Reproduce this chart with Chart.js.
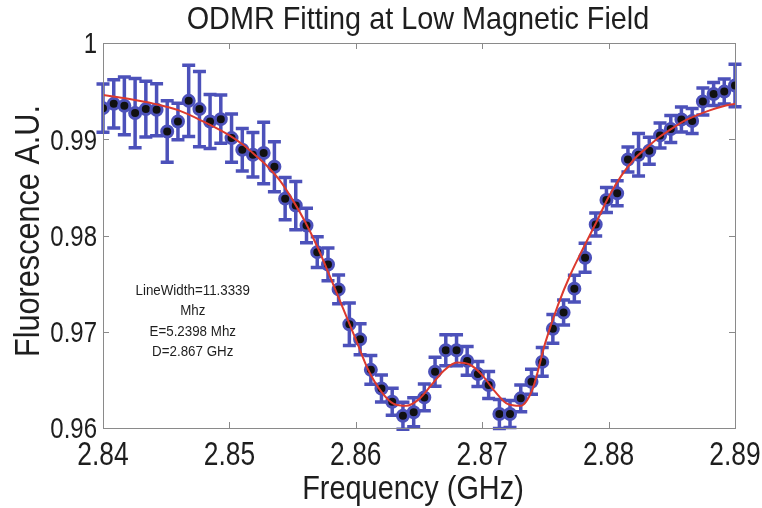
<!DOCTYPE html>
<html lang="en">
<head>
    <meta charset="UTF-8">
    <title>ODMR Fitting at Low Magnetic Field</title>
    <script src="https://cdn.jsdelivr.net/npm/chart.js"></script>
    <style>
        html, body { margin: 0; padding: 0; background: #fff; }
        #wrap { width: 762px; height: 508px; }
    </style>
</head>
<body>
<div id="wrap"><canvas id="chart" width="762" height="508"></canvas></div>
<script>
// measured ODMR sweep: frequency (GHz), normalised fluorescence and its error
const freqGHz = [
    2.84000, 2.84085, 2.84169, 2.84254, 2.84339, 2.84424, 2.84508, 2.84593, 2.84678, 2.84763,
    2.84847, 2.84932, 2.85017, 2.85102, 2.85186, 2.85271, 2.85356, 2.85441, 2.85525, 2.85610,
    2.85695, 2.85780, 2.85864, 2.85949, 2.86034, 2.86119, 2.86203, 2.86288, 2.86373, 2.86458,
    2.86542, 2.86627, 2.86712, 2.86797, 2.86881, 2.86966, 2.87051, 2.87136, 2.87220, 2.87305,
    2.87390, 2.87475, 2.87559, 2.87644, 2.87729, 2.87814, 2.87898, 2.87983, 2.88068, 2.88153,
    2.88237, 2.88322, 2.88407, 2.88492, 2.88576, 2.88661, 2.88746, 2.88831, 2.88915, 2.89000
];
const fluor = [
    0.99323, 0.99368, 0.99347, 0.99272, 0.99313, 0.99306, 0.99081, 0.99184, 0.99399, 0.99313,
    0.99184, 0.99209, 0.99012, 0.98891, 0.98839, 0.98857, 0.98715, 0.98383, 0.98311, 0.98104,
    0.97827, 0.97699, 0.97440, 0.97078, 0.96922, 0.96604, 0.96411, 0.96273, 0.96127, 0.96163,
    0.96318, 0.96584, 0.96808, 0.96808, 0.96697, 0.96560, 0.96446, 0.96145, 0.96145, 0.96308,
    0.96480, 0.96687, 0.97030, 0.97199, 0.97448, 0.97769, 0.98114, 0.98370, 0.98438, 0.98790,
    0.98839, 0.98880, 0.99040, 0.99106, 0.99205, 0.99190, 0.99392, 0.99470, 0.99495, 0.99558
];
const fluorErr = [
    0.0025, 0.0025, 0.0030, 0.0036, 0.0029, 0.0027, 0.0032, 0.0019, 0.0037, 0.0039,
    0.0028, 0.0025, 0.0025, 0.0022, 0.0023, 0.0032, 0.0026, 0.0022, 0.0025, 0.0018,
    0.0016, 0.0017, 0.0015, 0.0022, 0.0016, 0.0015, 0.0014, 0.0014, 0.0014, 0.0015,
    0.0014, 0.0015, 0.0016, 0.0016, 0.0015, 0.0013, 0.0014, 0.0015, 0.0014, 0.0014,
    0.0013, 0.0015, 0.0015, 0.0013, 0.0014, 0.0015, 0.0012, 0.0013, 0.0013, 0.0013,
    0.0022, 0.0014, 0.0013, 0.0014, 0.0013, 0.0013, 0.0014, 0.0012, 0.0013, 0.0022
];

// fitted double-dip curve
const fitGHz = [
    2.840, 2.842, 2.844, 2.846, 2.848, 2.850, 2.851, 2.852, 2.853, 2.854,
    2.855, 2.856, 2.857, 2.858, 2.859, 2.860, 2.861, 2.862, 2.863, 2.864,
    2.865, 2.866, 2.867, 2.868, 2.869, 2.870, 2.871, 2.872, 2.873, 2.874,
    2.875, 2.876, 2.877, 2.878, 2.879, 2.880, 2.881, 2.882, 2.883, 2.884,
    2.885, 2.886, 2.887, 2.888, 2.889, 2.890
];
const fitVal = [
    0.9946, 0.9942, 0.9937, 0.9930, 0.9918, 0.9904, 0.9895, 0.9884, 0.9872, 0.9857,
    0.9837, 0.9814, 0.9787, 0.9756, 0.9724, 0.9692, 0.9660, 0.9638, 0.9625, 0.9623,
    0.9630, 0.9645, 0.9660, 0.9668, 0.9666, 0.9655, 0.9638, 0.9625, 0.9623, 0.9641,
    0.9689, 0.9728, 0.9760, 0.9787, 0.9813, 0.9840, 0.9862, 0.9879, 0.9891, 0.9902,
    0.9911, 0.9919, 0.9925, 0.9930, 0.9934, 0.9937
];

const xTickLabels = ['2.84', '2.85', '2.86', '2.87', '2.88', '2.89'];
const yTickLabels = ['0.96', '0.97', '0.98', '0.99', '1'];
const fitNotes = ['LineWidth=11.3339', 'Mhz', 'E=5.2398 Mhz', 'D=2.867 GHz'];

const FONT = '"Liberation Sans", Arial, sans-serif';
const BLUE = '#4c51ba';
const INK = '#1e1e1e';

// narrow-looking text: regular sans squeezed horizontally
function label(ctx, s, x, y, size, squeeze, align, angle) {
    ctx.save();
    ctx.translate(x, y);
    if (angle) ctx.rotate(angle);
    ctx.scale(squeeze, 1);
    ctx.font = size + 'px ' + FONT;
    ctx.textAlign = align || 'center';
    ctx.textBaseline = 'middle';
    ctx.fillStyle = INK;
    ctx.fillText(s, 0, 0);
    ctx.restore();
}

// error bars, frame, inward ticks and all the text
const decorations = {
    id: 'decorations',
    beforeDatasetsDraw(chart) {
        const ctx = chart.ctx, x = chart.scales.x, y = chart.scales.y;
        ctx.save();
        ctx.strokeStyle = BLUE;
        ctx.lineWidth = 3.5;
        for (let i = 0; i < freqGHz.length; i++) {
            const px = x.getPixelForValue(freqGHz[i]);
            const top = y.getPixelForValue(fluor[i] + fluorErr[i]);
            const bot = y.getPixelForValue(fluor[i] - fluorErr[i]);
            ctx.beginPath();
            ctx.moveTo(px, top); ctx.lineTo(px, bot);
            ctx.moveTo(px - 6.5, top); ctx.lineTo(px + 6.5, top);
            ctx.moveTo(px - 6.5, bot); ctx.lineTo(px + 6.5, bot);
            ctx.stroke();
        }
        ctx.restore();
    },
    afterDraw(chart) {
        const ctx = chart.ctx, a = chart.chartArea, x = chart.scales.x, y = chart.scales.y;
        ctx.save();
        // box
        ctx.strokeStyle = '#8a8a8a';
        ctx.lineWidth = 1;
        ctx.strokeRect(a.left + 0.5, a.top + 0.5, a.right - a.left, a.bottom - a.top);
        // inward tick marks
        ctx.beginPath();
        x.ticks.forEach(t => {
            const px = Math.round(x.getPixelForValue(t.value)) + 0.5;
            ctx.moveTo(px, a.bottom); ctx.lineTo(px, a.bottom - 6);
            ctx.moveTo(px, a.top); ctx.lineTo(px, a.top + 6);
        });
        y.ticks.forEach(t => {
            const py = Math.round(y.getPixelForValue(t.value)) + 0.5;
            ctx.moveTo(a.left, py); ctx.lineTo(a.left + 6, py);
            ctx.moveTo(a.right, py); ctx.lineTo(a.right - 6, py);
        });
        ctx.stroke();
        ctx.restore();

        // tick labels
        xTickLabels.forEach(s => label(ctx, s, x.getPixelForValue(parseFloat(s)), a.bottom + 28, 33, 0.8));
        yTickLabels.forEach(s => label(ctx, s, a.left - 6, y.getPixelForValue(parseFloat(s)) + 2, 30, 0.8, 'right'));

        // titles
        label(ctx, 'ODMR Fitting at Low Magnetic Field', 418, 20, 32, 0.9);
        label(ctx, 'Frequency (GHz)', 413, 490, 34, 0.85);
        label(ctx, 'Fluorescence A.U.', 29, 231, 35, 0.875, 'center', -Math.PI / 2);

        // fit parameters, anchored in data coordinates
        const nx = x.getPixelForValue(2.8471);
        const ny = y.getPixelForValue(0.9743);
        fitNotes.forEach((s, i) => label(ctx, s, nx, ny + i * 20.5, 15, 0.89));
    }
};

new Chart(document.getElementById('chart').getContext('2d'), {
    type: 'scatter',
    data: {
        datasets: [
            {
                label: 'fit',
                data: fitGHz.map((f, i) => ({ x: f, y: fitVal[i] })),
                showLine: true,
                borderColor: '#dc3a2e',
                borderWidth: 2,
                pointRadius: 0,
                cubicInterpolationMode: 'monotone'
            },
            {
                label: 'data',
                data: freqGHz.map((f, i) => ({ x: f, y: fluor[i] })),
                pointRadius: 5.5,
                pointBackgroundColor: '#111',
                pointBorderColor: BLUE,
                pointBorderWidth: 3
            }
        ]
    },
    options: {
        responsive: false,
        animation: false,
        events: [],
        layout: { padding: { top: 43, right: 27, left: 0, bottom: 0 } },
        plugins: { legend: { display: false }, tooltip: { enabled: false } },
        scales: {
            x: {
                type: 'linear', min: 2.84, max: 2.89,
                afterFit: s => { s.height = 80; },
                afterBuildTicks: s => { s.ticks = xTickLabels.map(v => ({ value: parseFloat(v) })); },
                grid: { display: false, drawTicks: false },
                border: { display: false },
                ticks: { display: false }
            },
            y: {
                type: 'linear', min: 0.96, max: 1,
                afterFit: s => { s.width = 103; },
                afterBuildTicks: s => { s.ticks = yTickLabels.map(v => ({ value: parseFloat(v) })); },
                grid: { display: false, drawTicks: false },
                border: { display: false },
                ticks: { display: false }
            }
        }
    },
    plugins: [decorations]
});
</script>
</body>
</html>
